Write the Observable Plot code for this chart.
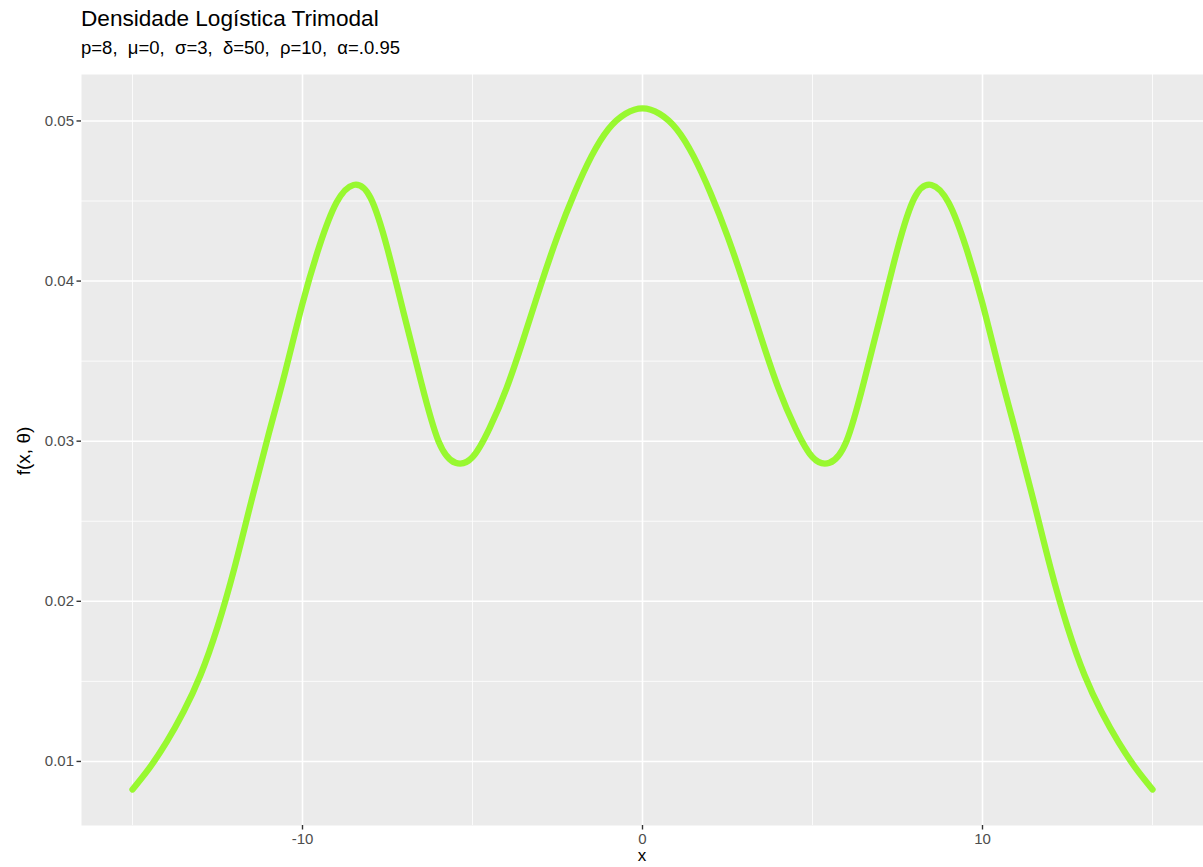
<!DOCTYPE html>
<html>
<head>
<meta charset="utf-8">
<script src="https://cdn.jsdelivr.net/npm/d3@7"></script>
<script src="https://cdn.jsdelivr.net/npm/@observablehq/plot@0.6"></script>
<style>
  html, body { margin: 0; padding: 0; background: #fff; }
  #wrap { position: relative; width: 1203px; height: 867px; font-family: "Liberation Sans", Arial, sans-serif; }
  #wrap svg { position: absolute; left: 0; top: 0; }
  .t { position: absolute; white-space: pre; color: #000; line-height: 1; }
  #title { left: 81px; top: 8px; font-size: 22.6px; }
  #subtitle { left: 81px; top: 39px; font-size: 18.5px; }
  #xlab { left: 0; width: 1284px; text-align: center; top: 847px; font-size: 17px; }
  #ylab { left: 23px; top: 451px; font-size: 19px; transform: translate(-50%, -50%) rotate(-90deg); }
</style>
</head>
<body>
<div id="wrap">
  <div class="t" id="title">Densidade Logística Trimodal</div>
  <div class="t" id="subtitle">p=8,  μ=0,  σ=3,  δ=50,  ρ=10,  α=.0.95</div>
  <div class="t" id="xlab">x</div>
  <div class="t" id="ylab">f(x, θ)</div>
</div>
<script>
// Curve values at every 0.5 of x
const xs = [-15, -14.5, -14, -13.5, -13, -12.5, -12, -11.5, -11, -10.5, -10, -9.5, -9, -8.5, -8, -7.5, -7, -6.5, -6, -5.5, -5, -4.5, -4, -3.5, -3, -2.5, -2, -1.5, -1, -0.5, 0,
            0.5, 1, 1.5, 2, 2.5, 3, 3.5, 4, 4.5, 5, 5.5, 6, 6.5, 7, 7.5, 8, 8.5, 9, 9.5, 10, 10.5, 11, 11.5, 12, 12.5, 13, 13.5, 14, 14.5, 15];
const ys = [0.00825, 0.0096, 0.0112, 0.0131, 0.0154, 0.0184, 0.0221, 0.0263, 0.0304, 0.0344, 0.0386, 0.0422, 0.0449, 0.0460, 0.0452, 0.0420, 0.0378, 0.0336, 0.0300, 0.02865, 0.0290, 0.0308, 0.0333, 0.0364, 0.0397, 0.0428, 0.0455, 0.0478, 0.0495, 0.05045, 0.05079,
            0.05045, 0.0495, 0.0478, 0.0455, 0.0428, 0.0397, 0.0364, 0.0333, 0.0308, 0.0290, 0.02865, 0.0300, 0.0336, 0.0378, 0.0420, 0.0452, 0.0460, 0.0449, 0.0422, 0.0386, 0.0344, 0.0304, 0.0263, 0.0221, 0.0184, 0.0154, 0.0131, 0.0112, 0.0096, 0.00825];
const xMajor = [-10, 0, 10];
const xMinor = [-15, -5, 5, 15];
const yMajor = [0.01, 0.02, 0.03, 0.04, 0.05];
const yMinor = [0.015, 0.025, 0.035, 0.045];

const data = xs.map((x, i) => ({x, y: ys[i]}));

const chart = Plot.plot({
  width: 1203,
  height: 867,
  marginTop: 74,
  marginBottom: 42,
  marginLeft: 81,
  marginRight: 0,
  style: {fontFamily: "'Liberation Sans', Arial, sans-serif", background: "transparent", overflow: "visible"},
  x: {domain: [-16.5, 16.5], label: null},
  y: {domain: [0.0060, 0.0529], label: null},
  marks: [
    Plot.frame({fill: "#EBEBEB", stroke: null}),
    Plot.ruleX(xMinor, {stroke: "#fff", strokeWidth: 0.8}),
    Plot.ruleY(yMinor, {stroke: "#fff", strokeWidth: 0.8}),
    Plot.ruleX(xMajor, {stroke: "#fff", strokeWidth: 1.6}),
    Plot.ruleY(yMajor, {stroke: "#fff", strokeWidth: 1.6}),
    Plot.line(data, {x: "x", y: "y", stroke: "#98F830", strokeWidth: 6.3, curve: "natural"}),
    Plot.axisX(xMajor, {tickSize: 4.5, tickPadding: 3, stroke: "#333", strokeWidth: 1.4, fill: "#4D4D4D", fontSize: 15, tickFormat: d => String(d), label: null}),
    Plot.axisY(yMajor, {tickSize: 4.5, tickPadding: 3, stroke: "#333", strokeWidth: 1.4, fill: "#4D4D4D", fontSize: 15, tickFormat: d => d.toFixed(2), label: null})
  ]
});
document.getElementById("wrap").prepend(chart);
</script>
</body>
</html>
